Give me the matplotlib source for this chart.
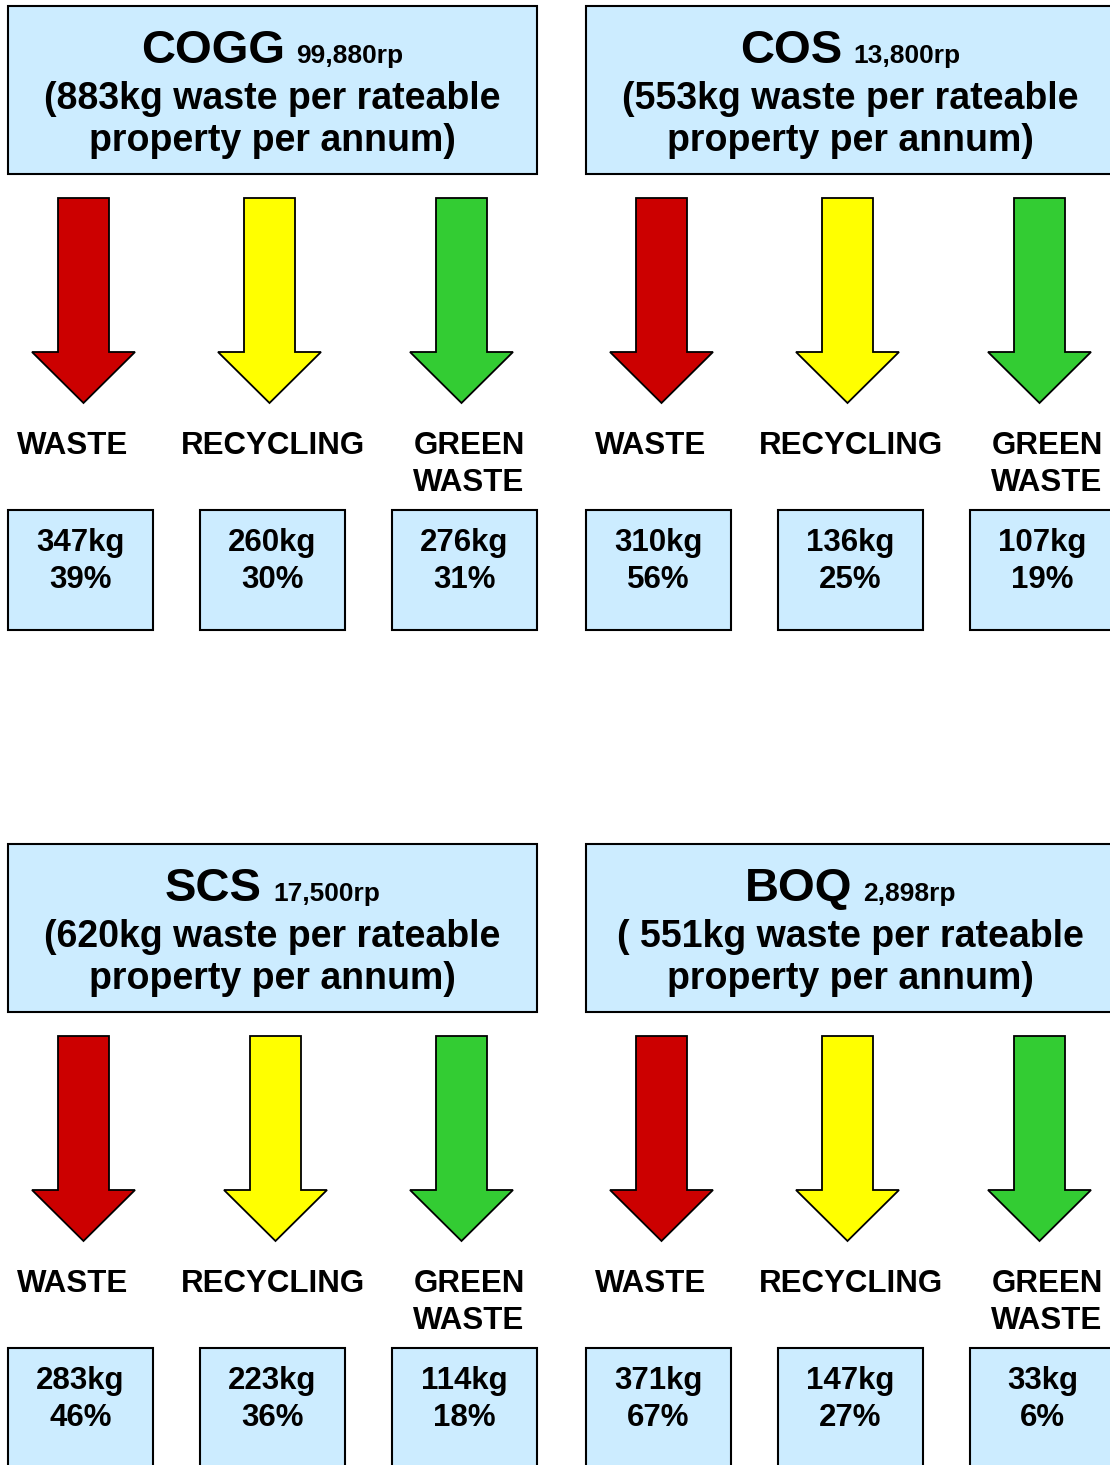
import matplotlib
matplotlib.use("Agg")
import matplotlib.pyplot as plt
from matplotlib.patches import Polygon, Rectangle

# ---------------- data ----------------
councils = ["COGG", "COS", "SCS", "BOQ"]
rateable = ["99,880rp", "13,800rp", "17,500rp", "2,898rp"]
header_line2 = ["(883kg waste per rateable", "(553kg waste per rateable",
                "(620kg waste per rateable", "( 551kg waste per rateable"]
header_line3 = "property per annum)"
streams = ["WASTE", "RECYCLING", "GREEN\nWASTE"]
stream_colors = ["#CC0000", "#FFFF00", "#33CC33"]
kg = [[347, 260, 276], [310, 136, 107], [283, 223, 114], [371, 147, 33]]
pct = [[39, 30, 31], [56, 25, 19], [46, 36, 18], [67, 27, 6]]

# ---------------- layout (pixels) ----------------
W, H = 1110, 1465
panel_dx = [0, 578, 0, 578]
panel_dy = [0, 0, 838, 838]
arrow_nudge = [[0, 0, 0], [0, 0, 0], [0, 6, 0], [0, 0, 0]]
BOX_BLUE = "#CCECFF"
FONT = "Liberation Sans"

fig = plt.figure(figsize=(W / 100, H / 100), dpi=100)
ax = fig.add_axes([0, 0, 1, 1])
ax.set_xlim(0, W)
ax.set_ylim(H, 0)
ax.axis("off")

header = dict(x=8, y=6, w=529, h=168)
arrow_cx = [83.5, 269.5, 461.5]
shaft_hw, head_hw = 25.5, 51.5
arrow_top, head_y, tip_y = 198, 352, 403
label_cx = [73, 273, 469]
label_base = [454, 491]
vbox_x = [8, 200, 392]
vbox_w, vbox_y, vbox_h = 145, 510, 120
vtext_base = [551, 588]

title_texts = []
for i, name in enumerate(councils):
    dx, dy = panel_dx[i], panel_dy[i]
    # header box
    ax.add_patch(Rectangle((header["x"] + dx, header["y"] + dy), header["w"], header["h"],
                           facecolor=BOX_BLUE, edgecolor="black", lw=1.5, zorder=1))
    cx = header["x"] + dx + header["w"] / 2
    t_big = ax.text(cx, 63 + dy, name, fontsize=34, fontweight="bold", family=FONT,
                    ha="left", va="baseline", zorder=3)
    t_small = ax.text(cx, 63 + dy, rateable[i], fontsize=19, fontweight="bold", family=FONT,
                      ha="left", va="baseline", zorder=3)
    title_texts.append((cx, t_big, t_small))
    ax.text(cx, 109 + dy, header_line2[i], fontsize=27, fontweight="bold", family=FONT,
            ha="center", va="baseline", zorder=3)
    ax.text(cx, 151 + dy, header_line3, fontsize=27, fontweight="bold", family=FONT,
            ha="center", va="baseline", zorder=3)

    for j in range(3):
        ac = arrow_cx[j] + dx + arrow_nudge[i][j]
        pts = [(ac - shaft_hw, arrow_top + dy), (ac + shaft_hw, arrow_top + dy),
               (ac + shaft_hw, head_y + dy), (ac + head_hw, head_y + dy),
               (ac, tip_y + dy), (ac - head_hw, head_y + dy),
               (ac - shaft_hw, head_y + dy)]
        ax.add_patch(Polygon(pts, closed=True, facecolor=stream_colors[j],
                             edgecolor="black", lw=1.3, joinstyle="miter", zorder=2))
        for k, line in enumerate(streams[j].split("\n")):
            ax.text(label_cx[j] + dx, label_base[k] + dy, line, fontsize=22.5,
                    fontweight="bold", family=FONT, ha="center", va="baseline")
        bx = vbox_x[j] + dx
        ax.add_patch(Rectangle((bx, vbox_y + dy), vbox_w, vbox_h, facecolor=BOX_BLUE,
                               edgecolor="black", lw=1.5, zorder=1))
        ax.text(bx + vbox_w / 2, vtext_base[0] + dy, f"{kg[i][j]}kg", fontsize=22.5,
                fontweight="bold", family=FONT, ha="center", va="baseline", zorder=3)
        ax.text(bx + vbox_w / 2, vtext_base[1] + dy, f"{pct[i][j]}%", fontsize=22.5,
                fontweight="bold", family=FONT, ha="center", va="baseline", zorder=3)

# centre the combined "NAME  rateable" title lines
fig.canvas.draw()
renderer = fig.canvas.get_renderer()
gap = 11
for cx, tb, ts in title_texts:
    bb1 = tb.get_window_extent(renderer)
    bb2 = ts.get_window_extent(renderer)
    w1 = bb1.width * W / fig.bbox.width
    w2 = bb2.width * W / fig.bbox.width
    total = w1 + gap + w2
    x0 = cx - total / 2
    tb.set_x(x0)
    ts.set_x(x0 + w1 + gap)

fig.savefig("out.png", dpi=100)
